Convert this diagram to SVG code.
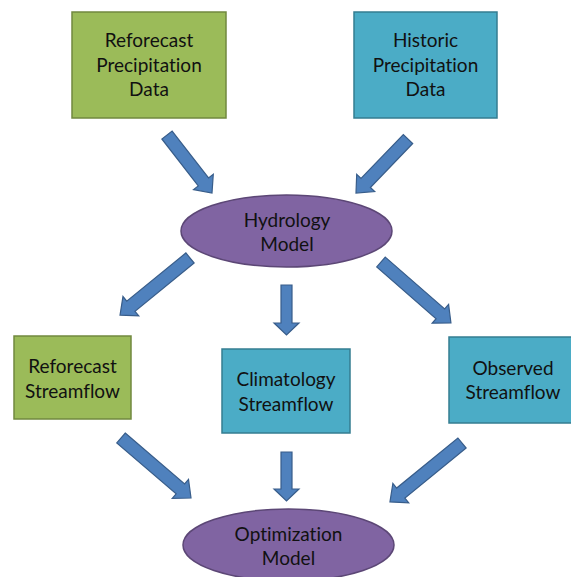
<svg xmlns="http://www.w3.org/2000/svg" width="571" height="577" viewBox="0 0 571 577">
<style>
.green{fill:#9BBB59;stroke:#71893F;stroke-width:1.5}
.blue{fill:#4BACC6;stroke:#357D91;stroke-width:1.5}
.oval{fill:#8064A2;stroke:#5C4776;stroke-width:1.5}
.arr{fill:#4F81BD;stroke:#385D8A;stroke-width:1.2;stroke-linejoin:miter}
text{font-family:Lato,"Open Sans","Liberation Sans",sans-serif;font-size:19px;fill:#111;text-anchor:middle;font-variant-ligatures:none;font-feature-settings:"liga" 0,"dlig" 0}
</style>
<rect width="571" height="577" fill="#fff"/>
<g id="connectors">
  <path class="arr" transform="translate(167,135) rotate(52.2)" d="M0,-6.5 H59.4 V-12.5 L73.4,0 L59.4,12.5 V6.5 H0 Z"/>
  <path class="arr" transform="translate(408,139) rotate(133.9)" d="M0,-6.5 H61 V-12.5 L75,0 L61,12.5 V6.5 H0 Z"/>
  <path class="arr" transform="translate(190,258) rotate(140.8)" d="M0,-6.5 H76.3 V-12.5 L90.3,0 L76.3,12.5 V6.5 H0 Z"/>
  <path class="arr" transform="translate(286.5,285) rotate(90)" d="M0,-5.5 H38 V-12.5 L50,0 L38,12.5 V5.5 H0 Z"/>
  <path class="arr" transform="translate(381,262) rotate(41.1)" d="M0,-6.5 H78.8 V-12.5 L92.8,0 L78.8,12.5 V6.5 H0 Z"/>
  <path class="arr" transform="translate(121,438) rotate(40.6)" d="M0,-6.5 H78.2 V-12.5 L92.2,0 L78.2,12.5 V6.5 H0 Z"/>
  <path class="arr" transform="translate(286.5,452) rotate(90)" d="M0,-5.5 H37 V-12.5 L49,0 L37,12.5 V5.5 H0 Z"/>
  <path class="arr" transform="translate(462,443) rotate(140.7)" d="M0,-6.5 H79.1 V-12.5 L93.1,0 L79.1,12.5 V6.5 H0 Z"/>
</g>
<g id="reforecast-precip">
  <rect class="green" x="72" y="12" width="154" height="106"/>
  <text x="149" y="47">Reforecast</text>
  <text x="149" y="72">Precipitation</text>
  <text x="149" y="96">Data</text>
</g>
<g id="historic-precip">
  <rect class="blue" x="354" y="12" width="143" height="106"/>
  <text x="425.5" y="47">Historic</text>
  <text x="425.5" y="72">Precipitation</text>
  <text x="425.5" y="96">Data</text>
</g>
<g id="hydrology-model">
  <ellipse class="oval" cx="286.5" cy="231" rx="105.5" ry="36"/>
  <text x="287" y="227">Hydrology</text>
  <text x="287" y="251">Model</text>
</g>
<g id="reforecast-streamflow">
  <rect class="green" x="14" y="336" width="117" height="83"/>
  <text x="72.5" y="373">Reforecast</text>
  <text x="72.5" y="398">Streamflow</text>
</g>
<g id="climatology-streamflow">
  <rect class="blue" x="222" y="349" width="128" height="84"/>
  <text x="286" y="386">Climatology</text>
  <text x="286" y="411">Streamflow</text>
</g>
<g id="observed-streamflow">
  <rect class="blue" x="449" y="337" width="130" height="86"/>
  <text x="513" y="375">Observed</text>
  <text x="513" y="399">Streamflow</text>
</g>
<g id="optimization-model">
  <ellipse class="oval" cx="288.5" cy="545" rx="105.5" ry="36"/>
  <text x="288.5" y="541">Optimization</text>
  <text x="288.5" y="565">Model</text>
</g>
</svg>
